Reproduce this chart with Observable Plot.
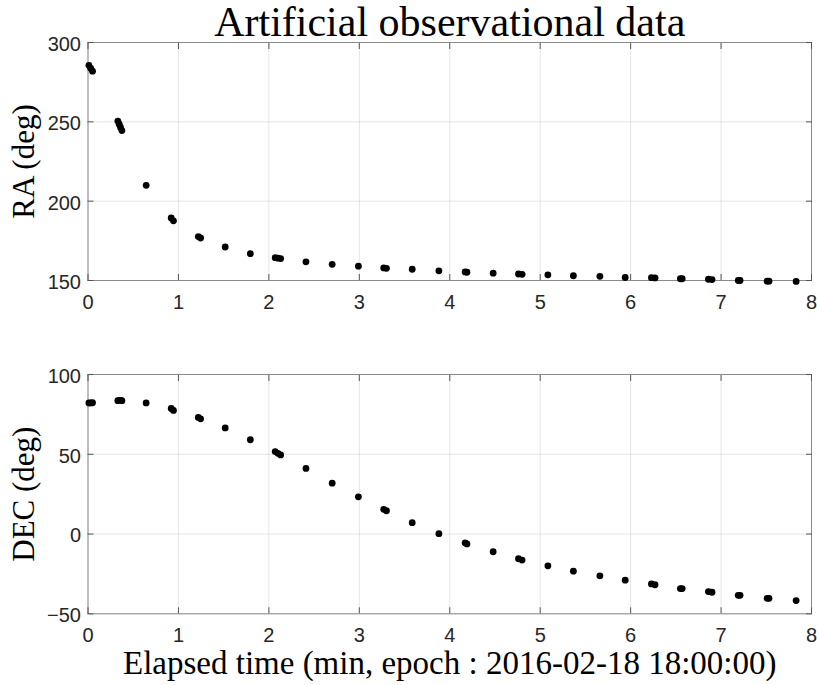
<!DOCTYPE html>
<html>
<head>
<meta charset="utf-8">
<script src="https://cdn.jsdelivr.net/npm/d3@7"></script>
<script src="https://cdn.jsdelivr.net/npm/@observablehq/plot@0.6"></script>
<style>
  body { margin: 0; background: #fff; }
  #root { position: relative; width: 817px; height: 685px; background: #fff; overflow: hidden; }
  #p1, #p2 { position: absolute; left: 0; }
  #p1 { top: 0; }
  #p2 { top: 320px; }
</style>
</head>
<body>
<div id="root"><div id="p1"></div><div id="p2"></div></div>
<script>
// Elapsed time (min) of each observation
const time = [
  0.01, 0.03, 0.05,
  0.33, 0.345, 0.36, 0.375,
  0.643,
  0.92, 0.945,
  1.22, 1.245,
  1.517,
  1.795,
  2.07, 2.10, 2.13,
  2.41,
  2.70,
  2.99,
  3.27, 3.30,
  3.585,
  3.88,
  4.17, 4.19,
  4.48,
  4.76, 4.80,
  5.085,
  5.367,
  5.66,
  5.94,
  6.23, 6.27,
  6.55, 6.57,
  6.86, 6.90,
  7.19, 7.21,
  7.51, 7.53,
  7.83
];
// Right ascension (deg)
const ra = [
  285.6, 283.7, 281.9,
  250.5, 248.5, 246.5, 244.5,
  210.0,
  189.4, 187.6,
  177.7, 176.8,
  171.1,
  166.9,
  164.4, 164.1, 163.8,
  161.8,
  160.2,
  159.0,
  157.9, 157.7,
  157.1,
  156.1,
  155.4, 155.2,
  154.6,
  154.1, 153.9,
  153.6,
  153.0,
  152.6,
  151.9,
  151.8, 151.6,
  151.1, 151.1,
  150.8, 150.6,
  150.0, 150.0,
  149.6, 149.6,
  149.4
];
// Declination (deg)
const dec = [
  82.2, 82.2, 82.3,
  83.6, 83.7, 83.7, 83.6,
  82.2,
  78.7, 77.5,
  73.1, 72.2,
  66.5,
  59.1,
  51.7, 50.6, 49.6,
  41.1,
  31.9,
  23.3,
  15.5, 14.6,
  7.1,
  0.2,
  -5.5, -6.2,
  -11.1,
  -15.5, -16.3,
  -19.9,
  -23.3,
  -26.2,
  -28.9,
  -31.3, -31.8,
  -34.2, -34.2,
  -36.1, -36.5,
  -38.4, -38.4,
  -40.3, -40.3,
  -41.7
];
const xTicks = [0, 1, 2, 3, 4, 5, 6, 7, 8];
const raTicks = [150, 200, 250, 300];
const decTicks = [-50, 0, 50, 100];
const titleText = "Artificial observational data";
const raLabel = "RA (deg)";
const decLabel = "DEC (deg)";
const xLabelText = "Elapsed time (min, epoch : 2016-02-18 18:00:00)";

const obs = time.map((t, i) => ({t, ra: ra[i], dec: dec[i]}));

const sans = "Liberation Sans, Arial, sans-serif";
const serif = "Liberation Serif, Times New Roman, serif";
const frameColor = "#8a8a8a";
const tickColor = "#555";
const labelColor = "#262626";

function panel({yKey, yDomain, yTicks, yLabel, height, marginTop, marginBottom, extra}) {
  return Plot.plot({
    width: 817,
    height,
    marginTop,
    marginBottom,
    marginLeft: 87.5,
    marginRight: 6,
    style: {background: "#fff", overflow: "visible"},
    x: {domain: [0, 8]},
    y: {domain: yDomain},
    marks: [
      Plot.gridX(xTicks, {stroke: "#000", strokeOpacity: 0.1}),
      Plot.gridY(yTicks, {stroke: "#000", strokeOpacity: 0.1}),
      Plot.frame({stroke: frameColor}),
      // inward ticks on all four sides
      Plot.axisX(xTicks, {anchor: "bottom", tickSize: -6, stroke: tickColor, tickFormat: () => "", label: null}),
      Plot.axisX(xTicks, {anchor: "top", tickSize: -6, stroke: tickColor, tickFormat: () => "", label: null}),
      Plot.axisY(yTicks, {anchor: "left", tickSize: -6, stroke: tickColor, tickFormat: () => "", label: null}),
      Plot.axisY(yTicks, {anchor: "right", tickSize: -6, stroke: tickColor, tickFormat: () => "", label: null}),
      // tick labels
      Plot.axisX(xTicks, {anchor: "bottom", tickSize: 0, tickPadding: 14, fontSize: 20, fontFamily: sans, fill: labelColor, label: null}),
      Plot.axisY(yTicks, {anchor: "left", tickSize: 0, tickPadding: 7, dy: 2, fontSize: 20, fontFamily: sans, fill: labelColor, label: null}),
      // y-axis title (rotated)
      Plot.text([yLabel], {text: d => d, frameAnchor: "left", rotate: -90, textAnchor: "middle", lineAnchor: "top", dx: -76, fontSize: 31, fontFamily: serif, fill: "#000"}),
      Plot.dot(obs, {x: "t", y: yKey, r: 3.4, fill: "#000", stroke: null}),
      ...(extra || [])
    ]
  });
}

const p1 = panel({
  yKey: "ra", yDomain: [150, 300], yTicks: raTicks, yLabel: raLabel,
  height: 320, marginTop: 42, marginBottom: 40,
  extra: [
    Plot.text([titleText], {text: d => d, frameAnchor: "top", lineAnchor: "bottom", dy: -7, fontSize: 42, fontFamily: serif, fill: "#000"})
  ]
});
document.getElementById("p1").appendChild(p1);

const p2 = panel({
  yKey: "dec", yDomain: [-50, 100], yTicks: decTicks, yLabel: decLabel,
  height: 365, marginTop: 54, marginBottom: 71.7,
  extra: [
    Plot.text([xLabelText], {text: d => d, frameAnchor: "bottom", lineAnchor: "bottom", dy: 60, fontSize: 33, fontFamily: serif, fill: "#000"})
  ]
});
document.getElementById("p2").appendChild(p2);
</script>
</body>
</html>
